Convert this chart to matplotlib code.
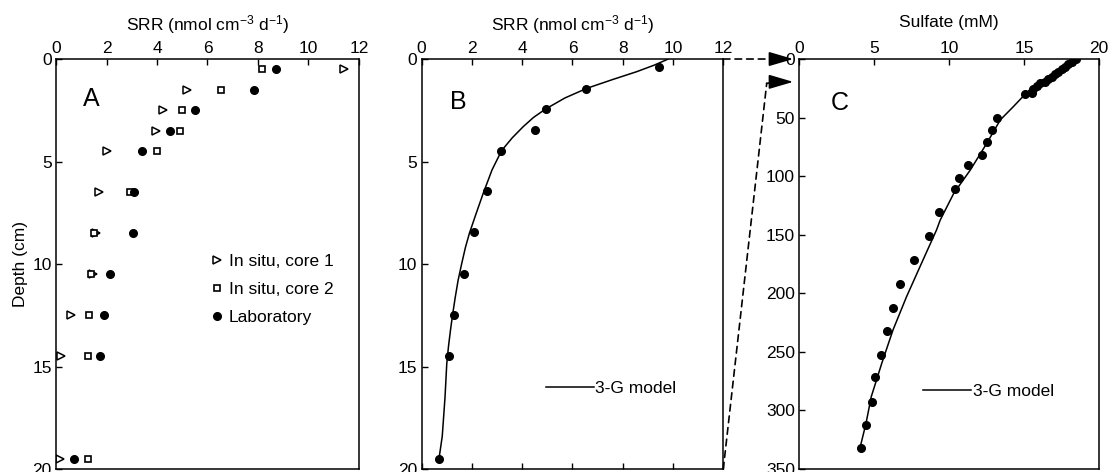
import matplotlib
matplotlib.use("Agg")
import matplotlib.pyplot as plt
from matplotlib.patches import ConnectionPatch

# Panel A: measured sulfate reduction rates
DEPTH_A = [0.5, 1.5, 2.5, 3.5, 4.5, 6.5, 8.5, 10.5, 12.5, 14.5, 19.5]
INSITU_CORE1 = [11.4, 5.2, 4.25, 3.95, 2.0, 1.7, 1.6, 1.45, 0.6, 0.2, 0.15]
INSITU_CORE2 = [8.15, 6.55, 5.0, 4.9, 4.0, 2.95, 1.5, 1.4, 1.3, 1.25, 1.25]
LABORATORY = [8.7, 7.85, 5.5, 4.5, 3.4, 3.1, 3.05, 2.15, 1.9, 1.75, 0.7]

# Panel B: SRR with 3-G model
DEPTH_B = [0.4, 1.45, 2.45, 3.45, 4.5, 6.45, 8.45, 10.5, 12.5, 14.5, 19.5]
SRR_B = [9.45, 6.55, 4.95, 4.5, 3.15, 2.6, 2.1, 1.7, 1.3, 1.1, 0.7]
MODEL_B_DEPTH = [0, 0.3, 0.62, 1.0, 1.43, 1.9, 2.44, 2.85, 3.3, 3.85, 4.47,
                 5.41, 6.55, 7.53, 8.5, 9.2, 10.0, 10.8, 11.6, 12.4, 13.2,
                 14.0, 14.85, 16.5, 18.4, 19.5]
MODEL_B_SRR = [9.81, 9.25, 8.55, 7.6, 6.57, 5.7, 4.93, 4.45, 4.04, 3.6, 3.18,
               2.8, 2.45, 2.17, 1.9, 1.74, 1.59, 1.45, 1.34, 1.24, 1.15, 1.07,
               1.0, 0.93, 0.82, 0.69]

# Panel C: sulfate profile with 3-G model
DEPTH_C = [0.3, 2.3, 4.3, 6.6, 8.8, 10.8, 12.8, 15.1, 17.3, 19.4, 20.8, 23,
           25.9, 28.7, 30.2, 50.6, 61, 71.1, 81.9, 90.9, 101.7, 111, 131, 151,
           171.6, 191.8, 212.6, 231.9, 252.4, 271.8, 292.5, 312.7, 332.4]
SULFATE_C = [18.45, 18.16, 17.93, 17.71, 17.49, 17.27, 17.05, 16.83, 16.6,
             16.38, 16.05, 15.82, 15.6, 15.49, 15.05, 13.16, 12.87, 12.49,
             12.16, 11.22, 10.66, 10.38, 9.29, 8.64, 7.63, 6.71, 6.22, 5.82,
             5.45, 5.07, 4.82, 4.45, 4.11]
MODEL_C_DEPTH = [0, 0.8, 8, 15, 20.8, 30.2, 40.7, 52, 72, 94.8, 114.7, 137.4,
                 146, 174.4, 203, 231.3, 259.8, 288.3, 311, 332]
MODEL_C_SULFATE = [18.4, 18.3, 17.5, 16.7, 15.8, 15.05, 14.27, 13.4, 12.5,
                   11.4, 10.3, 9.4, 9.15, 8.15, 7.15, 6.25, 5.5, 4.8, 4.45,
                   4.05]

SRR_LABEL = r"SRR (nmol cm$^{-3}$ d$^{-1}$)"
FS = 12.5
FS_LETTER = 18

plt.rcParams["font.family"] = ["Liberation Sans", "DejaVu Sans"]
plt.rcParams["mathtext.fontset"] = "custom"
plt.rcParams["mathtext.rm"] = "Liberation Sans"
plt.rcParams["mathtext.it"] = "Liberation Sans:italic"
plt.rcParams["mathtext.bf"] = "Liberation Sans:bold"
plt.rcParams["axes.linewidth"] = 1.1


def axis_style(ax, xmax, xstep, ymax, ystep, bottom_ticks=False):
    ax.set_xlim(0, xmax)
    ax.set_ylim(ymax, 0)
    ax.set_xticks(range(0, xmax + 1, xstep))
    ax.set_yticks(range(0, ymax + 1, ystep))
    ax.xaxis.tick_top()
    ax.xaxis.set_label_position("top")
    ax.tick_params(axis="x", direction="in", length=4, width=1, pad=2,
                   top=True, bottom=bottom_ticks, labeltop=True,
                   labelbottom=False, labelsize=FS)
    ax.tick_params(axis="y", direction="in", length=4, width=1, pad=3,
                   left=True, right=False, labelsize=FS)


fig = plt.figure(figsize=(11.09, 4.72), dpi=100)
axA = fig.add_axes([0.0505, 0.00636, 0.2732, 0.8686])
axB = fig.add_axes([0.3802, 0.00636, 0.2720, 0.8686])
axC = fig.add_axes([0.7207, 0.00636, 0.2705, 0.8686])

# A
axis_style(axA, 12, 2, 20, 5)
axA.plot(INSITU_CORE1, DEPTH_A, ls="none", marker=">", ms=5.5, mfc="white",
         mec="k", mew=1.1, label="In situ, core 1")
axA.plot(INSITU_CORE2, DEPTH_A, ls="none", marker="s", ms=5, mfc="white",
         mec="k", mew=1.2, label="In situ, core 2")
axA.plot(LABORATORY, DEPTH_A, ls="none", marker="o", ms=5.5, color="k",
         label="Laboratory")
axA.set_xlabel(SRR_LABEL, fontsize=FS)
axA.xaxis.set_label_coords(0.5, 1.069)
axA.set_ylabel("Depth (cm)", fontsize=FS)
axA.yaxis.set_label_coords(-0.092, 0.5)
axA.text(0.089, 0.903, "A", transform=axA.transAxes, fontsize=FS_LETTER,
         ha="left", va="center")
axA.legend(loc="upper left", bbox_to_anchor=(0.507, 0.524), frameon=False,
           borderpad=0, borderaxespad=0, handlelength=0.8,
           handletextpad=0.29, labelspacing=0.73, fontsize=FS)

# B
axis_style(axB, 12, 2, 20, 5, bottom_ticks=True)
axB.plot(MODEL_B_SRR, MODEL_B_DEPTH, color="k", lw=1.1, label="3-G model")
axB.plot(SRR_B, DEPTH_B, ls="none", marker="o", ms=5.5, color="k")
axB.set_xlabel(SRR_LABEL, fontsize=FS)
axB.xaxis.set_label_coords(0.5, 1.069)
axB.text(0.094, 0.896, "B", transform=axB.transAxes, fontsize=FS_LETTER,
         ha="left", va="center")
axB.legend(loc="upper left", bbox_to_anchor=(0.411, 0.215), frameon=False,
           borderpad=0, borderaxespad=0, handlelength=2.76,
           handletextpad=0.1, fontsize=FS)

# C
axis_style(axC, 20, 5, 350, 50)
axC.plot(MODEL_C_SULFATE, MODEL_C_DEPTH, color="k", lw=1.1, label="3-G model")
axC.plot(SULFATE_C, DEPTH_C, ls="none", marker="o", ms=5.5, color="k")
axC.set_xlabel("Sulfate (mM)", fontsize=FS)
axC.xaxis.set_label_coords(0.5, 1.079)
axC.text(0.105, 0.892, "C", transform=axC.transAxes, fontsize=FS_LETTER,
         ha="left", va="center")
axC.legend(loc="upper left", bbox_to_anchor=(0.413, 0.207), frameon=False,
           borderpad=0, borderaxespad=0, handlelength=2.76,
           handletextpad=0.1, fontsize=FS)

# dashed connectors from B to C
dash = (0, (4, 3))
con1 = ConnectionPatch(xyA=(12, 0), coordsA=axB.transData,
                       xyB=(-1.5, 0), coordsB=axC.transData,
                       linestyle=dash, lw=1.2, color="k")
fig.add_artist(con1)
con2 = ConnectionPatch(xyA=(12, 20), coordsA=axB.transData,
                       xyB=(-2.17, 20.8), coordsB=axC.transData,
                       linestyle=dash, lw=1.2, color="k")
fig.add_artist(con2)
axC.plot([-2.17, -1.85], [20.8, 20.2], color="k", lw=1.2, clip_on=False)
for yy in (0, 19.5):
    axC.annotate("", xy=(-0.4, yy), xytext=(-1.9, yy),
                 arrowprops=dict(arrowstyle="-|>,head_length=0.75,head_width=0.22",
                                 color="k", lw=1.2, shrinkA=0, shrinkB=0,
                                 mutation_scale=20),
                 annotation_clip=False)

fig.savefig("out.png", dpi=100)
